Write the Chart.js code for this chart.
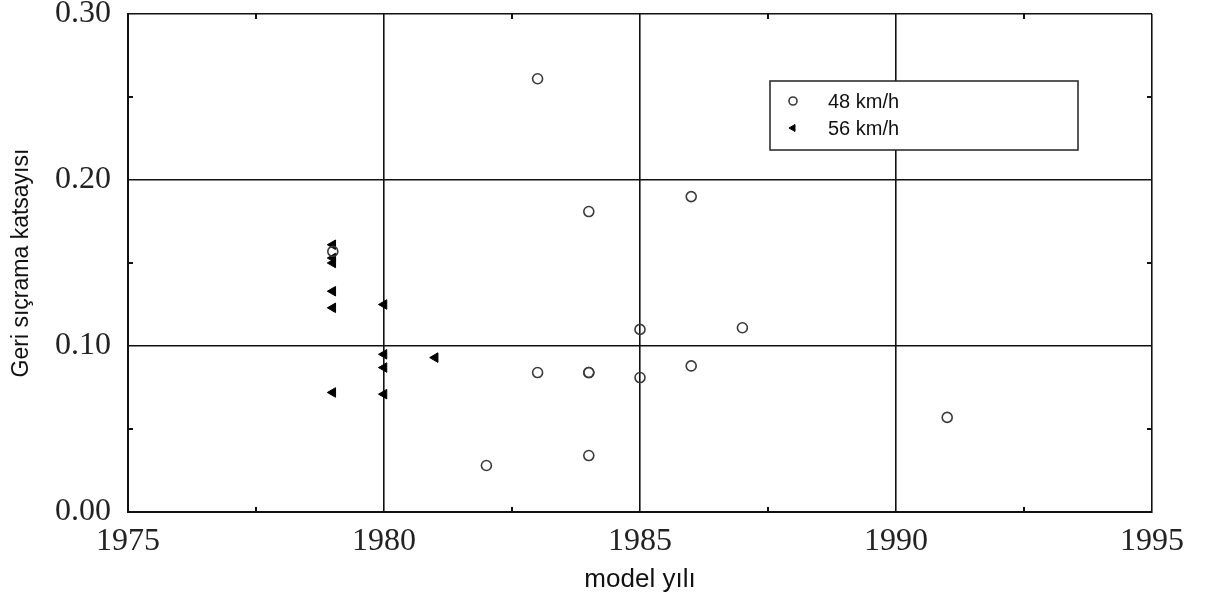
<!DOCTYPE html>
<html>
<head>
<meta charset="utf-8">
<script src="https://cdn.jsdelivr.net/npm/chart.js@4/dist/chart.umd.min.js"></script>
<style>
  html, body { margin: 0; padding: 0; background: #fff; }
  #wrap { width: 1206px; height: 603px; position: relative; }
</style>
</head>
<body>
<div id="wrap"><canvas id="chart"></canvas></div>
<script>
// 48 km/h (open circles)
const years48 = [1979, 1982, 1983, 1983, 1984, 1984, 1984, 1984, 1985, 1985, 1986, 1986, 1987, 1991];
const coef48 = [0.157, 0.028, 0.261, 0.084, 0.181, 0.084, 0.034, 0.084, 0.110, 0.081, 0.190, 0.088, 0.111, 0.057];

// 56 km/h (filled triangles)
const years56 = [1979, 1979, 1979, 1979, 1979, 1979, 1980, 1980, 1980, 1980, 1981];
const coef56 = [0.161, 0.153, 0.150, 0.133, 0.123, 0.072, 0.125, 0.095, 0.087, 0.071, 0.093];

const xMajor = [1975, 1980, 1985, 1990, 1995];
const xMinor = [1977.5, 1982.5, 1987.5, 1992.5];
const yMajor = [0, 0.1, 0.2, 0.3];
const yMinor = [0.05, 0.15, 0.25];

const xTitle = "model yılı";
const yTitle = "Geri sıçrama katsayısı";

function toPoints(xs, ys) {
  return xs.map((x, i) => ({ x, y: ys[i] }));
}

const serif = "'Liberation Serif', 'Times New Roman', serif";
const sans = "'Liberation Sans', Arial, sans-serif";

// small inward ticks between the grid lines, on all four sides
const minorTicks = {
  id: "minorTicks",
  afterDraw(chart) {
    const { ctx, chartArea: a, scales: { x, y } } = chart;
    const len = 5;
    ctx.save();
    ctx.strokeStyle = "#111";
    ctx.lineWidth = 2;
    ctx.beginPath();
    xMinor.forEach(v => {
      const px = x.getPixelForValue(v);
      ctx.moveTo(px, a.bottom); ctx.lineTo(px, a.bottom - len);
      ctx.moveTo(px, a.top); ctx.lineTo(px, a.top + len);
    });
    yMinor.forEach(v => {
      const py = y.getPixelForValue(v);
      ctx.moveTo(a.left, py); ctx.lineTo(a.left + len, py);
      ctx.moveTo(a.right, py); ctx.lineTo(a.right - len, py);
    });
    ctx.stroke();
    ctx.restore();
  }
};

// boxed legend in the upper right of the plot
const boxLegend = {
  id: "boxLegend",
  afterDraw(chart) {
    const ctx = chart.ctx;
    const bx = 770, by = 81, bw = 308, bh = 69;
    ctx.save();
    ctx.fillStyle = "#fff";
    ctx.fillRect(bx, by, bw, bh);
    ctx.strokeStyle = "#222";
    ctx.lineWidth = 1.5;
    ctx.strokeRect(bx, by, bw, bh);
    ctx.font = "20px " + sans;
    ctx.textBaseline = "middle";
    chart.data.datasets.forEach((ds, i) => {
      const cy = by + 20 + i * 27;
      ctx.fillStyle = ds.backgroundColor;
      ctx.strokeStyle = ds.borderColor;
      ctx.lineWidth = ds.borderWidth;
      Chart.helpers.drawPoint(ctx, {
        pointStyle: ds.pointStyle,
        rotation: ds.rotation || 0,
        radius: 4,
        borderWidth: ds.borderWidth
      }, 793, cy);
      ctx.fillStyle = "#111";
      ctx.fillText(ds.label, 828, cy + 1);
    });
    ctx.restore();
  }
};

new Chart(document.getElementById("chart"), {
  type: "scatter",
  data: {
    datasets: [
      {
        label: "48 km/h",
        data: toPoints(years48, coef48),
        pointStyle: "circle",
        pointRadius: 5,
        borderColor: "#3a3a3a",
        backgroundColor: "rgba(0,0,0,0)",
        borderWidth: 1.6
      },
      {
        label: "56 km/h",
        data: toPoints(years56, coef56),
        pointStyle: "triangle",
        rotation: -90,
        pointRadius: 5.5,
        borderColor: "#000",
        backgroundColor: "#000",
        borderWidth: 1
      }
    ]
  },
  options: {
    responsive: true,
    maintainAspectRatio: false,
    animation: false,
    layout: {
      padding: { top: 14, right: 54, left: 0, bottom: 0 }
    },
    plugins: {
      legend: { display: false },
      tooltip: { enabled: false }
    },
    scales: {
      x: {
        type: "linear",
        min: 1975,
        max: 1995,
        afterBuildTicks(scale) {
          scale.ticks = xMajor.map(value => ({ value }));
        },
        afterFit(scale) {
          scale.height = 91;
        },
        ticks: {
          font: { family: serif, size: 32, lineHeight: 0.8 },
          color: "#222",
          padding: 17,
          maxRotation: 0,
          callback: v => String(v)
        },
        grid: {
          color: "#111",
          lineWidth: 1.6,
          drawTicks: false
        },
        border: { display: true, color: "#111", width: 2 },
        title: {
          display: true,
          text: xTitle,
          font: { family: sans, size: 26 },
          color: "#111",
          padding: { top: 0, bottom: 8 }
        }
      },
      y: {
        type: "linear",
        min: 0,
        max: 0.3,
        afterBuildTicks(scale) {
          scale.ticks = yMajor.map(value => ({ value }));
        },
        afterFit(scale) {
          scale.width = 128;
          scale.paddingTop = 0;
          scale.paddingBottom = 0;
        },
        ticks: {
          font: { family: serif, size: 32, lineHeight: 0.8 },
          color: "#222",
          padding: 17,
          callback: v => Number(v).toFixed(2)
        },
        grid: {
          color: "#111",
          lineWidth: 1.6,
          drawTicks: false
        },
        border: { display: true, color: "#111", width: 2 },
        title: {
          display: true,
          text: yTitle,
          font: { family: sans, size: 23 },
          color: "#111",
          padding: { top: 8, bottom: 0 }
        }
      }
    }
  },
  plugins: [minorTicks, boxLegend]
});
</script>
</body>
</html>
